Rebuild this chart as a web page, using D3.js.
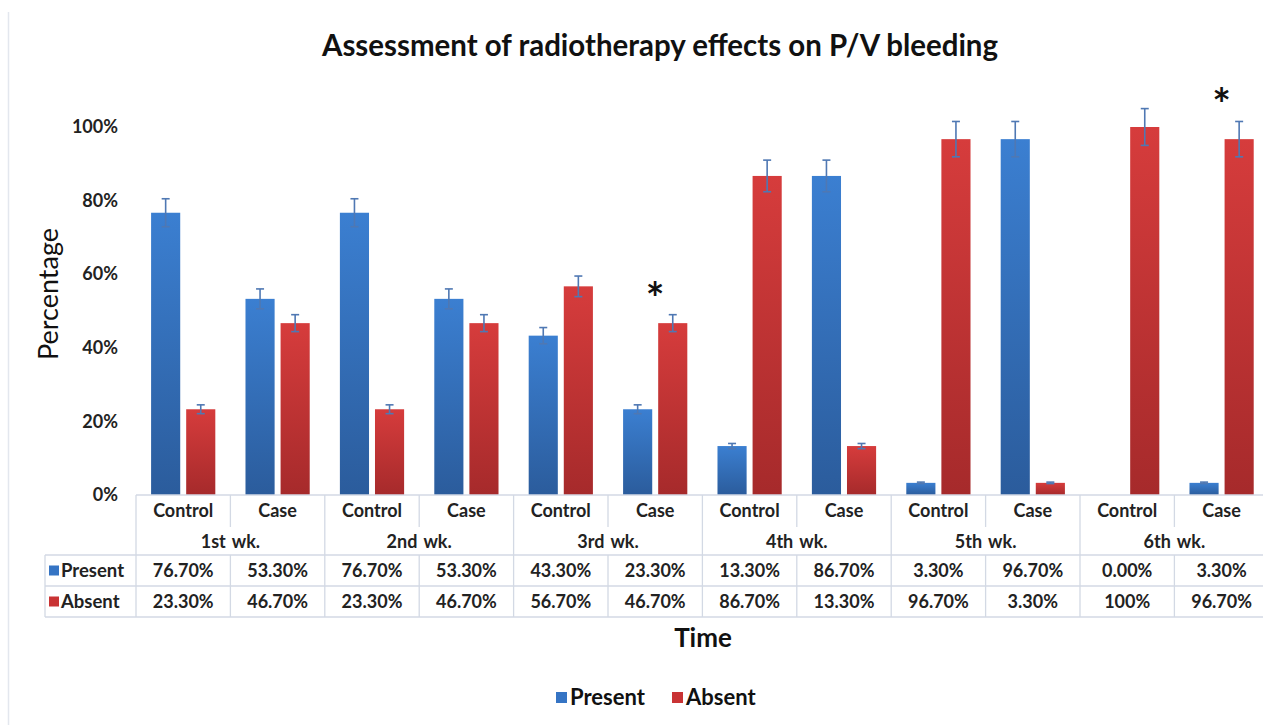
<!DOCTYPE html>
<html>
<head>
<meta charset="utf-8">
<script src="https://cdn.jsdelivr.net/npm/d3@7"></script>
<style>
  html, body { margin: 0; padding: 0; background: #fff; }
  svg { display: block; font-family: Lato, "Open Sans", sans-serif; }
</style>
</head>
<body>
<svg id="chart" width="1263" height="725"></svg>
<script>
// ---- data ----
const weeks = ["1st wk.", "2nd wk.", "3rd wk.", "4th wk.", "5th wk.", "6th wk."];
const groups = ["Control", "Case"];
const seriesNames = ["Present", "Absent"];
const presentValues = [76.7, 53.3, 76.7, 53.3, 43.3, 23.3, 13.3, 86.7, 3.3, 96.7, 0, 3.3];
const absentValues  = [23.3, 46.7, 23.3, 46.7, 56.7, 46.7, 86.7, 13.3, 96.7, 3.3, 100, 96.7];
const presentErrors = [3.8, 2.7, 3.8, 2.7, 2.2, 1.2, 0.7, 4.3, 0.2, 4.8, 0, 0.2];
const absentErrors  = [1.2, 2.3, 1.2, 2.3, 2.8, 2.3, 4.3, 0.7, 4.8, 0.2, 5.0, 4.8];
const presentLabels = ["76.70%", "53.30%", "76.70%", "53.30%", "43.30%", "23.30%", "13.30%", "86.70%", "3.30%", "96.70%", "0.00%", "3.30%"];
const absentLabels  = ["23.30%", "46.70%", "23.30%", "46.70%", "56.70%", "46.70%", "86.70%", "13.30%", "96.70%", "3.30%", "100%", "96.70%"];
const yTicks = [0, 20, 40, 60, 80, 100];
const starColumns = [5, 11]; // significance markers (3rd wk. Case, 6th wk. Case)

// ---- layout ----
const svg = d3.select("#chart");
const plotLeft = 136, colW = 94.4;
const yTop = 127, yBottom = 495;
const colors = { Present: "#3574c4", Absent: "#c93334" };

const columns = [];
weeks.forEach((w, i) => groups.forEach((g, j) => columns.push({ key: i * 2 + j, week: w, group: g })));

const x = d3.scaleBand().domain(columns.map(d => d.key)).range([plotLeft, plotLeft + colW * columns.length]).padding(0);
const xs = d3.scaleBand().domain(seriesNames).range([0, x.bandwidth()]).paddingInner(0.17).paddingOuter(0.43);
const y = d3.scaleLinear().domain([0, 100]).range([yBottom, yTop]);

// gradients
const defs = svg.append("defs");
[["Present", "#3b7fd1", "#2b5c9c"], ["Absent", "#d63c3c", "#a62a2b"]].forEach(([n, c1, c2]) => {
  const g = defs.append("linearGradient").attr("id", "g" + n).attr("x1", 0).attr("x2", 0).attr("y1", 0).attr("y2", 1);
  g.append("stop").attr("offset", "0%").attr("stop-color", c1);
  g.append("stop").attr("offset", "100%").attr("stop-color", c2);
});

// left page border
svg.append("line").attr("x1", 8.5).attr("x2", 8.5).attr("y1", 12).attr("y2", 725)
  .attr("stroke", "#e3e7ee").attr("stroke-width", 1.5);

// title
svg.append("text").attr("x", 660).attr("y", 56).attr("text-anchor", "middle")
  .attr("font-size", 30).attr("font-weight", 700).attr("fill", "#111")
  .attr("textLength", 676).attr("lengthAdjust", "spacingAndGlyphs")
  .text("Assessment of radiotherapy  effects on P/V bleeding");

// y axis
const yAxis = d3.axisLeft(y).tickValues(yTicks).tickFormat(d => d + "%").tickSize(0).tickPadding(18);
const ya = svg.append("g").attr("transform", `translate(${plotLeft},0)`).call(yAxis);
ya.select(".domain").remove();
ya.selectAll("text").attr("font-size", 18).attr("font-weight", 700).attr("fill", "#222")
  .attr("font-family", "Lato, sans-serif");

svg.append("text").attr("transform", "translate(58,294) rotate(-90)").attr("text-anchor", "middle")
  .attr("font-size", 27).attr("fill", "#111").text("Percentage");

// bars
const barData = [];
columns.forEach((c, i) => {
  barData.push({ col: c.key, s: "Present", v: presentValues[i], e: presentErrors[i] });
  barData.push({ col: c.key, s: "Absent", v: absentValues[i], e: absentErrors[i] });
});
svg.append("g").selectAll("rect").data(barData.filter(d => d.v > 0)).join("rect")
  .attr("x", d => x(d.col) + xs(d.s))
  .attr("y", d => y(d.v))
  .attr("width", xs.bandwidth())
  .attr("height", d => y(0) - y(d.v))
  .attr("fill", d => `url(#g${d.s})`);

// error bars
const eg = svg.append("g").attr("stroke", "#4f78b3").attr("stroke-width", 1.6).attr("fill", "none");
barData.filter(d => d.v > 0).forEach(d => {
  const cx = x(d.col) + xs(d.s) + xs.bandwidth() / 2;
  const top = y(d.v + d.e), bot = y(Math.max(0, d.v - d.e));
  eg.append("line").attr("x1", cx).attr("x2", cx).attr("y1", top).attr("y2", bot);
  eg.append("line").attr("x1", cx - 4).attr("x2", cx + 4).attr("y1", top).attr("y2", top);
  eg.append("line").attr("x1", cx - 4).attr("x2", cx + 4).attr("y1", bot).attr("y2", bot);
});

// significance stars
svg.append("g").selectAll("text").data(starColumns).join("text")
  .attr("x", d => x(d) + x.bandwidth() / 2)
  .attr("y", d => y(absentValues[d] + absentErrors[d]) - 1)
  .attr("text-anchor", "middle").attr("font-size", 44).attr("font-weight", 700).attr("fill", "#111")
  .text("*");

// ---- data table ----
const rHeadBot = 527, rWeekBot = 555, rPresBot = 586, rAbsBot = 617;
const lineColor = "#d3d9e4";
const tg = svg.append("g").attr("stroke", lineColor).attr("stroke-width", 1.3);
const right = 1263;
tg.append("line").attr("x1", plotLeft).attr("x2", right).attr("y1", yBottom).attr("y2", yBottom);
[rWeekBot, rPresBot, rAbsBot].forEach(yy =>
  tg.append("line").attr("x1", 45).attr("x2", right).attr("y1", yy).attr("y2", yy));
tg.append("line").attr("x1", 45).attr("x2", 45).attr("y1", rWeekBot).attr("y2", rAbsBot);
columns.forEach((c, i) => {
  const xx = x(c.key);
  if (i % 2 === 0) {
    tg.append("line").attr("x1", xx).attr("x2", xx).attr("y1", yBottom).attr("y2", rAbsBot);
  } else {
    tg.append("line").attr("x1", xx).attr("x2", xx).attr("y1", yBottom).attr("y2", rHeadBot);
    tg.append("line").attr("x1", xx).attr("x2", xx).attr("y1", rWeekBot).attr("y2", rAbsBot);
  }
});

const txt = svg.append("g").attr("font-size", 18).attr("font-weight", 700).attr("fill", "#222").attr("text-anchor", "middle");
columns.forEach((c, i) => {
  const cx = x(c.key) + x.bandwidth() / 2;
  txt.append("text").attr("x", cx).attr("y", 517).text(c.group);
  txt.append("text").attr("x", cx).attr("y", 577).text(presentLabels[i]);
  txt.append("text").attr("x", cx).attr("y", 608).text(absentLabels[i]);
});
weeks.forEach((w, i) => {
  txt.append("text").attr("x", x(i * 2 + 1)).attr("y", 548).attr("word-spacing", 2).text(w);
});
[["Present", 570.5], ["Absent", 601.5]].forEach(([n, cy]) => {
  svg.append("rect").attr("x", 49).attr("y", cy - 5).attr("width", 10).attr("height", 10).attr("fill", colors[n]);
  svg.append("text").attr("x", 61).attr("y", cy + 6.5).attr("font-size", 18.5).attr("font-weight", 700)
    .attr("fill", "#222").text(n);
});

// x axis title
svg.append("text").attr("x", 703).attr("y", 647).attr("text-anchor", "middle")
  .attr("font-size", 26).attr("font-weight", 700).attr("fill", "#111").text("Time");

// legend
const lg = svg.append("g");
const legendItems = [["Present", 556], ["Absent", 672]];
legendItems.forEach(([n, lx]) => {
  lg.append("rect").attr("x", lx).attr("y", 692).attr("width", 11).attr("height", 11).attr("fill", colors[n]);
  lg.append("text").attr("x", lx + 14).attr("y", 705).attr("font-size", 22).attr("font-weight", 700)
    .attr("fill", "#111").text(n);
});
</script>
</body>
</html>
